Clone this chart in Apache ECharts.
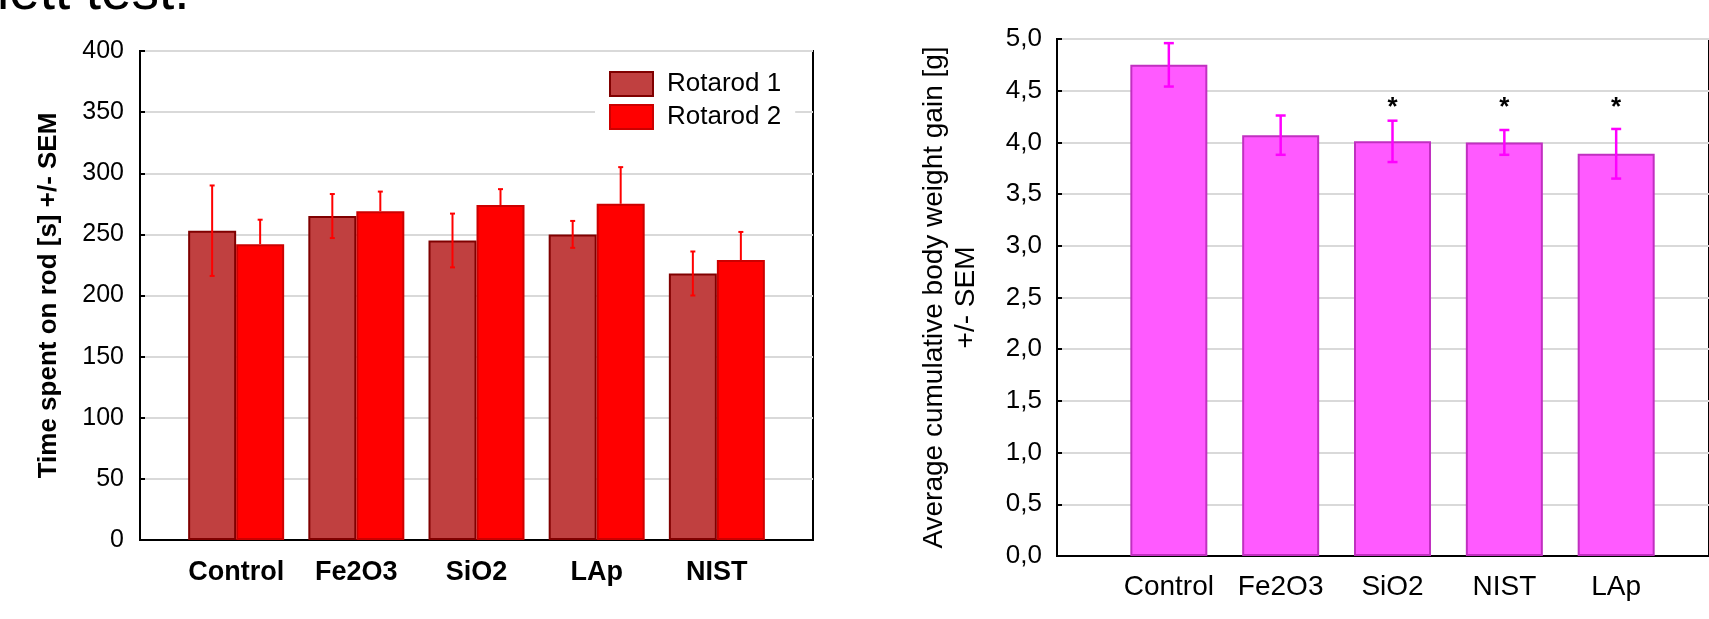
<!DOCTYPE html>
<html>
<head>
<meta charset="utf-8">
<script src="https://cdn.jsdelivr.net/npm/echarts@6/dist/echarts.min.js"></script>
<style>
  html, body { margin: 0; padding: 0; background: #fff; }
  #chart { width: 1709px; height: 619px; }
</style>
</head>
<body>
<div id="chart"></div>
<script>
// 左图：Rotarod
var groups = ['Control', 'Fe2O3', 'SiO2', 'LAp', 'NIST'];
var rotarod1 = [253, 265, 245, 250, 218];
var rotarod1Sem = [37, 18, 22, 11, 18];
var rotarod2 = [242, 269, 274, 275, 229];
var rotarod2Sem = [20, 16, 13, 30, 23];
var timeTicks = [0, 50, 100, 150, 200, 250, 300, 350, 400];

// 右图：体重增加
var groups2 = ['Control', 'Fe2O3', 'SiO2', 'NIST', 'LAp'];
var gain = [4.75, 4.07, 4.01, 4.00, 3.89];
var gainSem = [0.21, 0.19, 0.20, 0.12, 0.24];
var stars = ['', '', '*', '*', '*'];
var gainTicks = [0, 0.5, 1, 1.5, 2, 2.5, 3, 3.5, 4, 4.5, 5];

var font = "'Liberation Sans', Arial, sans-serif";
var starLevel = 4.33;

var chart = echarts.init(document.getElementById('chart'));

// 误差线
function errorBar(offset, capW, color, width, upOnly) {
    return function (params, api) {
        var x = api.value(0), m = api.value(1), e = api.value(2);
        var top = api.coord([x, m + e]);
        var bot = api.coord([x, upOnly ? m : m - e]);
        var cx = top[0] + offset;
        var st = { stroke: color, lineWidth: width };
        var kids = [
            { type: 'line', shape: { x1: cx, y1: top[1], x2: cx, y2: bot[1] }, style: st },
            { type: 'line', shape: { x1: cx - capW / 2, y1: top[1], x2: cx + capW / 2, y2: top[1] }, style: st }
        ];
        if (!upOnly) {
            kids.push({ type: 'line', shape: { x1: cx - capW / 2, y1: bot[1], x2: cx + capW / 2, y2: bot[1] }, style: st });
        }
        return { type: 'group', children: kids };
    };
}

var option = {
    animation: false,
    textStyle: { fontFamily: font },
    graphic: [{
        type: 'text', left: -3, top: -34,
        style: { text: 'lett test.', font: '55px ' + font, fill: '#000' }
    }],
    grid: [
        { left: 140, top: 51, width: 673, height: 489, show: true, borderColor: '#000', borderWidth: 2 },
        { left: 1057, top: 39, width: 652, height: 517, show: true, borderColor: '#000', borderWidth: 2 }
    ],
    legend: {
        data: ['Rotarod 1', 'Rotarod 2'],
        orient: 'vertical', left: 595, top: 62,
        backgroundColor: '#fff', padding: [9, 14, 6, 14],
        itemWidth: 43, itemHeight: 24, itemGap: 7, icon: 'rect',
        textStyle: { fontSize: 26, color: '#000', fontFamily: font, padding: [0, 0, 0, 9] }
    },
    xAxis: [{
        gridIndex: 0, type: 'value', min: -0.8, max: 4.8,
        axisLine: { lineStyle: { color: '#000', width: 2 } },
        axisTick: { show: false },
        splitLine: { show: false },
        axisLabel: {
            customValues: [0, 1, 2, 3, 4],
            formatter: function (v) { return groups[Math.round(v)]; },
            fontSize: 27, fontWeight: 'bold', color: '#000', margin: 19
        }
    }, {
        gridIndex: 1, type: 'value', min: 0, max: 5.83,
        axisLine: { lineStyle: { color: '#000', width: 2 } },
        axisTick: { customValues: [1, 2, 3, 4, 5], inside: true, length: 5, lineStyle: { color: '#000', width: 2 } },
        splitLine: { show: false },
        axisLabel: {
            customValues: [1, 2, 3, 4, 5],
            formatter: function (v) { return groups2[Math.round(v) - 1]; },
            fontSize: 28, color: '#000', margin: 17
        }
    }],
    yAxis: [{
        gridIndex: 0, type: 'value', min: 0, max: 400, interval: 50,
        name: 'Time spent on rod [s] +/- SEM', nameLocation: 'middle', nameGap: 78,
        nameTextStyle: { fontSize: 26, fontWeight: 'bold', color: '#000' },
        axisLine: { show: true, onZero: false, lineStyle: { color: '#000', width: 2 } },
        axisTick: { show: true, inside: true, length: 5, lineStyle: { color: '#000', width: 2 } },
        splitLine: { lineStyle: { color: '#d9d9d9', width: 2 } },
        axisLabel: {
            customValues: timeTicks,
            fontSize: 25, color: '#000', margin: 16
        }
    }, {
        gridIndex: 1, type: 'value', min: 0, max: 5, interval: 0.5,
        name: 'Average cumulative body weight gain [g]\n+/- SEM', nameLocation: 'middle', nameGap: 75,
        nameTextStyle: { fontSize: 28, lineHeight: 32, color: '#000', align: 'center' },
        axisLine: { show: true, onZero: false, lineStyle: { color: '#000', width: 2 } },
        axisTick: { show: true, inside: true, length: 5, lineStyle: { color: '#000', width: 2 } },
        splitLine: { lineStyle: { color: '#d9d9d9', width: 2 } },
        axisLabel: {
            customValues: gainTicks,
            formatter: function (v) { return v.toFixed(1).replace('.', ','); },
            fontSize: 26, color: '#000', margin: 15
        }
    }],
    series: [
        {
            name: 'Rotarod 1', type: 'bar', xAxisIndex: 0, yAxisIndex: 0,
            barWidth: 48, barGap: '0%', z: 2,
            itemStyle: { color: '#c04040', borderColor: '#800000', borderWidth: 2 },
            data: rotarod1.map(function (v, i) { return [i, v]; })
        },
        {
            name: 'Rotarod 2', type: 'bar', xAxisIndex: 0, yAxisIndex: 0,
            barWidth: 48, barGap: '0%', z: 2,
            itemStyle: { color: '#ff0000', borderColor: '#cc0000', borderWidth: 2 },
            data: rotarod2.map(function (v, i) { return [i, v]; })
        },
        {
            type: 'custom', xAxisIndex: 0, yAxisIndex: 0, z: 5,
            renderItem: errorBar(-24, 5, '#ff0000', 2, false),
            data: rotarod1.map(function (v, i) { return [i, v, rotarod1Sem[i]]; })
        },
        {
            type: 'custom', xAxisIndex: 0, yAxisIndex: 0, z: 5,
            renderItem: errorBar(24, 5, '#ff0000', 2, true),
            data: rotarod2.map(function (v, i) { return [i, v, rotarod2Sem[i]]; })
        },
        {
            name: 'gain', type: 'bar', xAxisIndex: 1, yAxisIndex: 1,
            barWidth: 77, z: 2,
            itemStyle: { color: '#ff5aff', borderColor: '#c030c0', borderWidth: 2 },
            data: gain.map(function (v, i) { return [i + 1, v]; })
        },
        {
            type: 'custom', xAxisIndex: 1, yAxisIndex: 1, z: 5,
            renderItem: errorBar(0, 10, '#ff00ff', 2.5, false),
            data: gain.map(function (v, i) { return [i + 1, v, gainSem[i]]; })
        },
        {
            type: 'custom', xAxisIndex: 1, yAxisIndex: 1, z: 5,
            renderItem: function (params, api) {
                var p = api.coord([api.value(0), starLevel]);
                return {
                    type: 'text', x: p[0], y: p[1],
                    style: {
                        text: stars[params.dataIndex], fill: '#000',
                        font: 'bold 26px ' + font, align: 'center', verticalAlign: 'middle'
                    }
                };
            },
            data: stars.map(function (s, i) { return [i + 1, 0]; })
        }
    ]
};
chart.setOption(option);
</script>
</body>
</html>
